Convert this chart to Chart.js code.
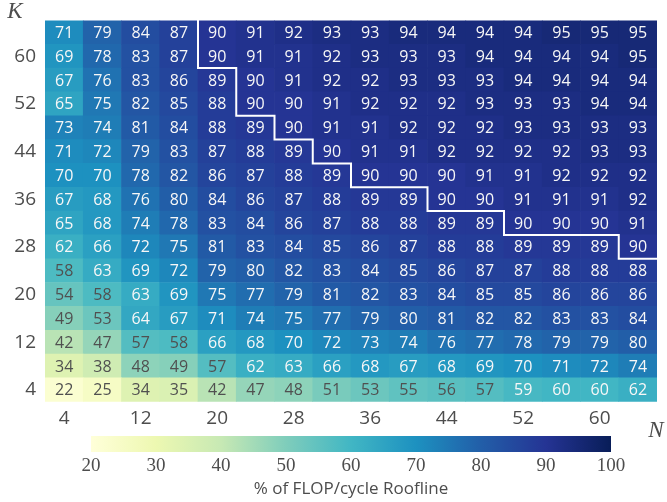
<!DOCTYPE html>
<html>
<head>
<meta charset="utf-8">
<script src="https://cdn.jsdelivr.net/npm/chart.js@4.4.1/dist/chart.umd.min.js"></script>
<style>
  html, body { margin: 0; padding: 0; background: #fff; }
  #wrap { position: relative; width: 667px; height: 502px; }
  #heat { position: absolute; left: 0; top: 0; }
  #cbar { position: absolute; left: 0; top: 425px; }
</style>
</head>
<body>
<div id="wrap">
  <canvas id="heat" width="667" height="502"></canvas>
  <canvas id="cbar" width="667" height="77"></canvas>
</div>
<script>
const nValues = [4, 8, 12, 16, 20, 24, 28, 32, 36, 40, 44, 48, 52, 56, 60, 64];
const kValues = [4, 8, 12, 16, 20, 24, 28, 32, 36, 40, 44, 48, 52, 56, 60, 64];
const xTicks = [4, 12, 20, 28, 36, 44, 52, 60];
const yTicks = [4, 12, 20, 28, 36, 44, 52, 60];
const cbTicks = [20, 30, 40, 50, 60, 70, 80, 90, 100];

// % of roofline, one row per K (K = 4 first), columns follow nValues
const efficiency = [
  [22, 25, 34, 35, 42, 47, 48, 51, 53, 55, 56, 57, 59, 60, 60, 62], // K=4
  [34, 38, 48, 49, 57, 62, 63, 66, 68, 67, 68, 69, 70, 71, 72, 74], // K=8
  [42, 47, 57, 58, 66, 68, 70, 72, 73, 74, 76, 77, 78, 79, 79, 80], // K=12
  [49, 53, 64, 67, 71, 74, 75, 77, 79, 80, 81, 82, 82, 83, 83, 84], // K=16
  [54, 58, 63, 69, 75, 77, 79, 81, 82, 83, 84, 85, 85, 86, 86, 86], // K=20
  [58, 63, 69, 72, 79, 80, 82, 83, 84, 85, 86, 87, 87, 88, 88, 88], // K=24
  [62, 66, 72, 75, 81, 83, 84, 85, 86, 87, 88, 88, 89, 89, 89, 90], // K=28
  [65, 68, 74, 78, 83, 84, 86, 87, 88, 88, 89, 89, 90, 90, 90, 91], // K=32
  [67, 68, 76, 80, 84, 86, 87, 88, 89, 89, 90, 90, 91, 91, 91, 92], // K=36
  [70, 70, 78, 82, 86, 87, 88, 89, 90, 90, 90, 91, 91, 92, 92, 92], // K=40
  [71, 72, 79, 83, 87, 88, 89, 90, 91, 91, 92, 92, 92, 92, 93, 93], // K=44
  [73, 74, 81, 84, 88, 89, 90, 91, 91, 92, 92, 92, 93, 93, 93, 93], // K=48
  [65, 75, 82, 85, 88, 90, 90, 91, 92, 92, 92, 93, 93, 93, 94, 94], // K=52
  [67, 76, 83, 86, 89, 90, 91, 92, 92, 93, 93, 93, 94, 94, 94, 94], // K=56
  [69, 78, 83, 87, 90, 91, 91, 92, 93, 93, 93, 94, 94, 94, 94, 95], // K=60
  [71, 79, 84, 87, 90, 91, 92, 93, 93, 94, 94, 94, 94, 95, 95, 95]  // K=64
];

const threshold = 90;   // outline drawn round the cells at or above this
const vmin = 20, vmax = 100;

// matplotlib YlGnBu
const ylgnbu = ["#ffffd9", "#edf8b1", "#c7e9b4", "#7fcdbb", "#41b6c4", "#1d91c0", "#225ea8", "#253494", "#081d58"];
const stops = ylgnbu.map(h => [1, 3, 5].map(o => parseInt(h.slice(o, o + 2), 16)));

function cmap(t) {
  t = Math.max(0, Math.min(1, t));
  const s = t * (stops.length - 1);
  const i = Math.min(stops.length - 2, Math.floor(s));
  const f = s - i;
  const c = stops[i].map((a, k) => Math.round(a + (stops[i + 1][k] - a) * f));
  return `rgb(${c[0]},${c[1]},${c[2]})`;
}
const norm = (v) => (v - vmin) / (vmax - vmin);

const textGray = "#4d4d4d";
const sans = "'Open Sans', Lato, sans-serif";
const serif = "'Liberation Serif', 'DejaVu Serif', serif";

// ---------------------------------------------------------------- plugins
const cellLabels = {
  id: "cellLabels",
  afterDatasetsDraw(chart) {
    const { ctx } = chart;
    ctx.save();
    ctx.font = `16px ${sans}`;
    ctx.textAlign = "center";
    ctx.textBaseline = "middle";
    chart.data.datasets.forEach((ds, j) => {
      chart.getDatasetMeta(j).data.forEach((bar, i) => {
        const v = efficiency[j][i];
        ctx.fillStyle = norm(v) > 0.48 ? "#f7f7f7" : "#505050";
        ctx.fillText(String(v), bar.x, (bar.y + bar.base) / 2 + 1);
      });
    });
    ctx.restore();
  }
};

const outline = {
  id: "outline",
  afterDatasetsDraw(chart) {
    const { ctx } = chart;
    const rows = kValues.length, cols = nValues.length;
    const hi = (i, j) => efficiency[j][i] >= threshold;
    ctx.save();
    ctx.strokeStyle = "#ffffff";
    ctx.lineWidth = 2;
    ctx.lineCap = "square";
    ctx.beginPath();
    for (let j = 0; j < rows; j++) {
      const bars = chart.getDatasetMeta(j).data;
      for (let i = 0; i < cols; i++) {
        if (!hi(i, j)) continue;
        const b = bars[i];
        const l = b.x - b.width / 2, r = b.x + b.width / 2;
        const top = Math.min(b.y, b.base), bot = Math.max(b.y, b.base);
        if (i > 0 && !hi(i - 1, j)) { ctx.moveTo(l, top); ctx.lineTo(l, bot); }
        if (i < cols - 1 && !hi(i + 1, j)) { ctx.moveTo(r, top); ctx.lineTo(r, bot); }
        if (j > 0 && !hi(i, j - 1)) { ctx.moveTo(l, bot); ctx.lineTo(r, bot); }
        if (j < rows - 1 && !hi(i, j + 1)) { ctx.moveTo(l, top); ctx.lineTo(r, top); }
      }
    }
    ctx.stroke();
    ctx.restore();
  }
};

const axisNames = {
  id: "axisNames",
  afterDraw(chart) {
    const { ctx, chartArea } = chart;
    ctx.save();
    ctx.fillStyle = textGray;
    ctx.font = `italic 23px ${serif}`;
    ctx.textAlign = "center";
    ctx.textBaseline = "middle";
    ctx.fillText("K", 15, 12);
    ctx.fillText("N", chartArea.right - 1, 431);
    ctx.restore();
  }
};

// ---------------------------------------------------------------- heatmap
const datasets = kValues.map((k, j) => ({
  label: "K=" + k,
  data: nValues.map(() => [k - 2, k + 2]),
  backgroundColor: efficiency[j].map(v => cmap(norm(v))),
  borderWidth: 0,
  barPercentage: 1,
  categoryPercentage: 1,
  grouped: false
}));

new Chart(document.getElementById("heat").getContext("2d"), {
  type: "bar",
  data: { labels: nValues.map(String), datasets },
  options: {
    responsive: false,
    animation: false,
    events: [],
    layout: { padding: { top: 5, right: 10, bottom: 70.3, left: 0 } },
    plugins: { legend: { display: false }, tooltip: { enabled: false } },
    scales: {
      x: {
        type: "category",
        grid: { display: false, drawTicks: false },
        border: { display: false },
        afterFit: (s) => { s.height = 30; },
        ticks: {
          autoSkip: false, maxRotation: 0, padding: 5,
          color: textGray, font: { family: sans, size: 19 },
          callback(val, idx) {
            const n = nValues[idx];
            return xTicks.includes(n) ? String(n) : "";
          }
        }
      },
      y: {
        type: "linear",
        min: 2, max: 66,
        grid: { display: false, drawTicks: false },
        border: { display: false },
        afterFit: (s) => { s.width = 45; },
        afterBuildTicks: (s) => { s.ticks = yTicks.map(v => ({ value: v })); },
        ticks: { padding: 9, color: textGray, font: { family: sans, size: 19 } }
      }
    }
  },
  plugins: [cellLabels, outline, axisNames]
});

// ---------------------------------------------------------------- colorbar
new Chart(document.getElementById("cbar").getContext("2d"), {
  type: "bar",
  data: {
    labels: [""],
    datasets: [{
      data: [[vmin, vmax]],
      borderWidth: 0,
      barPercentage: 1,
      categoryPercentage: 1,
      backgroundColor(c) {
        const area = c.chart.chartArea;
        if (!area) return "#ccc";
        const g = c.chart.ctx.createLinearGradient(area.left, 0, area.right, 0);
        for (let s = 0; s <= 40; s++) g.addColorStop(s / 40, cmap(s / 40));
        return g;
      }
    }]
  },
  options: {
    indexAxis: "y",
    responsive: false,
    animation: false,
    events: [],
    layout: { padding: { top: 11, right: 56, bottom: 0, left: 91 } },
    plugins: { legend: { display: false }, tooltip: { enabled: false } },
    scales: {
      y: { display: false },
      x: {
        type: "linear",
        min: vmin, max: vmax,
        grid: { display: false, drawTicks: false },
        border: { display: false },
        afterFit: (s) => { s.height = 50; },
        afterBuildTicks: (s) => { s.ticks = cbTicks.map(v => ({ value: v })); },
        ticks: { padding: 3, color: textGray, font: { family: serif, size: 19 } },
        title: {
          display: true,
          text: "% of FLOP/cycle Roofline",
          color: textGray,
          font: { family: sans, size: 17 },
          padding: { top: 0, bottom: 3 }
        }
      }
    }
  }
});
</script>
</body>
</html>
